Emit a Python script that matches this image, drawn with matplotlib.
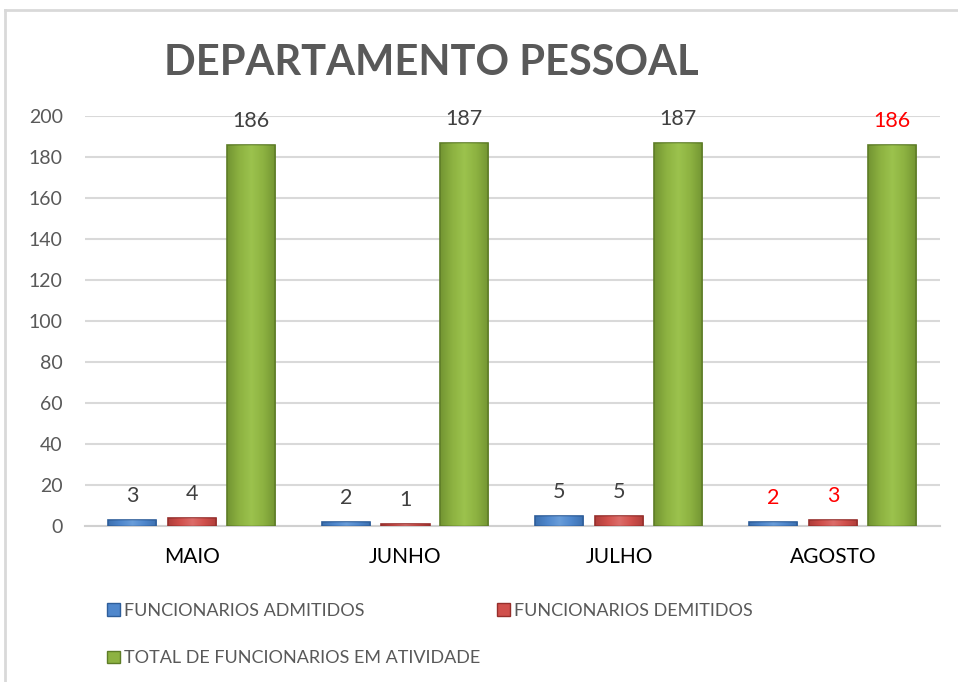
import numpy as np
import matplotlib.pyplot as plt
from matplotlib.colors import LinearSegmentedColormap
from matplotlib.lines import Line2D
from matplotlib.patches import Patch

# Dados
meses = ['MAIO', 'JUNHO', 'JULHO', 'AGOSTO']
admitidos = [3, 2, 5, 2]
demitidos = [4, 1, 5, 3]
total = [186, 187, 187, 186]
series_nomes = ['FUNCIONARIOS ADMITIDOS', 'FUNCIONARIOS DEMITIDOS',
                'TOTAL DE FUNCIONARIOS EM ATIVIDADE']
yticks = [0, 20, 40, 60, 80, 100, 120, 140, 160, 180, 200]

plt.rcParams['font.family'] = ['Lato', 'DejaVu Sans']

# cores: (claro, base, escuro)
cores = [('#7FB0E6', '#4F87CC', '#2E5E9A'),
         ('#E88683', '#D0504C', '#962F2C'),
         ('#A9D158', '#8DB241', '#5E7D27')]

fig = plt.figure(figsize=(9.58, 6.82), dpi=100)
ax = fig.add_axes([0.0887, 0.2287, 0.8923, 0.6013])

x = np.arange(len(meses))
largura = 0.225
desloc = [-0.28, 0.0, 0.275]
dados = [admitidos, demitidos, total]

for k, serie in enumerate(dados):
    claro, base, escuro = cores[k]
    cmap = LinearSegmentedColormap.from_list('g%d' % k, [escuro, base, claro, base, escuro])
    barras = ax.bar(x + desloc[k], serie, width=largura, color=base,
                    edgecolor=escuro, linewidth=1.2, zorder=3)
    for b in barras:
        x0, w, h = b.get_x(), b.get_width(), b.get_height()
        grad = np.linspace(0, 1, 64).reshape(1, -1)
        im = ax.imshow(grad, extent=[x0, x0 + w, 0, h], aspect='auto',
                       cmap=cmap, zorder=3.5, alpha=0.55)
        im.set_clip_path(b)
    for i, v in enumerate(serie):
        cor = 'red' if i == 3 else '#404040'
        ax.annotate(str(v), (x[i] + desloc[k], v), xytext=(0, 10),
                    textcoords='offset points', ha='center', va='bottom',
                    fontsize=15.5, color=cor)

ax.set_xlim(-0.5, 3.5)
ax.set_ylim(0, 200)
ax.set_yticks(yticks)
ax.set_xticks(x)
ax.set_xticklabels(meses, fontsize=15, color='#000000')
ax.tick_params(axis='y', labelsize=14, labelcolor='#595959', length=0, pad=16)
ax.tick_params(axis='x', length=0, pad=15)
ax.yaxis.grid(True, color='#D9D9D9', linewidth=1.5, zorder=0)
ax.set_axisbelow(True)
for s in ['top', 'right', 'left']:
    ax.spines[s].set_visible(False)
ax.spines['bottom'].set_color('#D0D0D0')
ax.spines['bottom'].set_linewidth(1.5)

fig.suptitle('DEPARTAMENTO PESSOAL', x=0.45, y=0.935, fontsize=30,
             fontweight='bold', color='#595959')

# ordem para que a legenda fique em linhas: admitidos, demitidos / total
ordem = [0, 2, 1]
handles = [Patch(facecolor=cores[k][1], edgecolor=cores[k][2]) for k in ordem]
fig.legend(handles, [series_nomes[k] for k in ordem], loc='upper left',
           bbox_to_anchor=(0.095, 0.14), ncol=2, frameon=False, fontsize=13,
           labelcolor='#595959', handlelength=0.7, handleheight=0.7,
           handletextpad=0.25, columnspacing=0.9, labelspacing=1.75)

# moldura do gráfico
fig.add_artist(Line2D([0.005, 0.005], [0.0, 0.985], color='#D9D9D9', linewidth=2))
fig.add_artist(Line2D([0.005, 1.0], [0.985, 0.985], color='#D9D9D9', linewidth=2))

plt.savefig('out.png', dpi=100)
